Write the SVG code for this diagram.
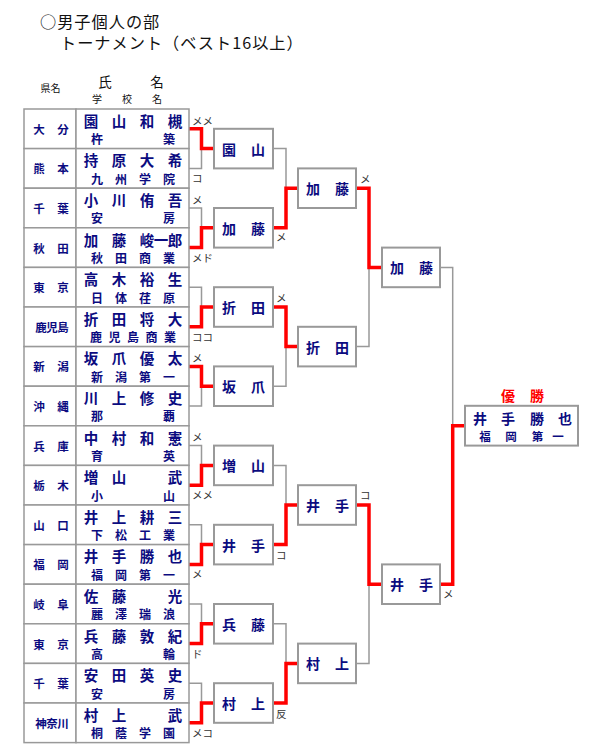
<svg xmlns="http://www.w3.org/2000/svg" width="600" height="750" viewBox="0 0 600 750">
<style>
text{font-family:"Noto Sans CJK JP","Noto Sans",sans-serif;dominant-baseline:central}
.hd{font-size:16.2px;fill:#111;letter-spacing:1px}
.th{fill:#111;text-anchor:middle}
.pf{font-size:11.5px;fill:#0b0b80;font-weight:bold;text-anchor:middle}
.nm{font-size:14.5px;fill:#0b0b80;font-weight:bold;text-anchor:middle}
.sc{font-size:12px;fill:#0b0b80;font-weight:bold;text-anchor:middle}
.bx{font-size:14px;fill:#0b0b80;font-weight:bold;text-anchor:middle}
.lb{font-size:10.5px;fill:#333}
.cell{fill:#fff;stroke:#999;stroke-width:1.5}
.box{fill:#fff;stroke:#999;stroke-width:2}
.g{fill:none;stroke:#999;stroke-width:1.5}
.r{fill:none;stroke:#f00;stroke-width:3.5;stroke-linejoin:miter}
</style>
<rect width="600" height="750" fill="#fff"/>
<g id="title">
<text class="hd" x="40" y="21">○男子個人の部</text>
<text class="hd" x="60" y="42.2">トーナメント（ベスト16以上）</text>
</g>
<g id="header">
<text class="th" x="50.5" y="87" style="font-size:10px">県名</text>
<text class="th" x="105 157" y="80.5" style="font-size:13.5px">氏名</text>
<text class="th" x="97 127 157" y="98.5" style="font-size:10px">学校名</text>
</g>
<g id="connectors">
<path class="g" d="M189 128.8H201.5V168.4H189M189 208H201.5V247.6H189M189 287.2H201.5V326.8H189M189 366.4H201.5V406H189M189 445.6H201.5V485.2H189M189 524.8H201.5V564.4H189M189 604H201.5V643.6H189M189 683.2H201.5V722.8H189"/>
<path class="g" d="M273 148.6H286V227.8H273M273 307H286V386.2H273M273 465.4H286V544.6H273M273 623.8H286V703H273"/>
<path class="g" d="M356 188.2H369V346.6H356M356 505H369V663.4H356"/>
<path class="g" d="M440 267.4H452.7V584.2H440"/>
<path class="r" d="M189 128.8H201.5V148.6H214"/>
<path class="r" d="M189 247.6H201.5V227.8H214"/>
<path class="r" d="M189 326.8H201.5V307H214"/>
<path class="r" d="M189 366.4H201.5V386.2H214"/>
<path class="r" d="M189 485.2H201.5V465.4H214"/>
<path class="r" d="M189 564.4H201.5V544.6H214"/>
<path class="r" d="M189 643.6H201.5V623.8H214"/>
<path class="r" d="M189 722.8H201.5V703H214"/>
<path class="r" d="M273 227.8H286V188.2H298"/>
<path class="r" d="M273 307H286V346.6H298"/>
<path class="r" d="M273 544.6H286V505H298"/>
<path class="r" d="M273 703H286V663.4H298"/>
<path class="r" d="M356 188.2H369V267.4H382"/>
<path class="r" d="M356 505H369V584.2H382"/>
<path class="r" d="M440 584.2H452.7V425.8H465"/>
</g>
<g id="scores">
<text class="lb" x="192" y="120.3">メメ</text>
<text class="lb" x="192" y="177.9">コ</text>
<text class="lb" x="192" y="199.5">メ</text>
<text class="lb" x="192" y="257.1">メド</text>
<text class="lb" x="192" y="336.3">ココ</text>
<text class="lb" x="192" y="357.9">メ</text>
<text class="lb" x="192" y="436.5">メ</text>
<text class="lb" x="192" y="494.7">メメ</text>
<text class="lb" x="192" y="573.9">メ</text>
<text class="lb" x="192" y="653.1">ド</text>
<text class="lb" x="192" y="732.3">メコ</text>
<text class="lb" x="276" y="236.8">メ</text>
<text class="lb" x="276" y="297">メ</text>
<text class="lb" x="276" y="554">コ</text>
<text class="lb" x="276" y="713">反</text>
<text class="lb" x="360" y="178">メ</text>
<text class="lb" x="360" y="494">コ</text>
<text class="lb" x="443" y="593">メ</text>
</g>
<g id="p1"><rect class="cell" x="24" y="109" width="52" height="39.6"/><rect class="cell" x="76" y="109" width="113" height="39.6"/><text class="pf" x="39 63" y="128.8">大分</text><text class="nm" x="91 119 147 175" y="120.3">園山和槻</text><text class="sc" x="97 169" y="138.7">杵築</text></g>
<g id="p2"><rect class="cell" x="24" y="148.6" width="52" height="39.6"/><rect class="cell" x="76" y="148.6" width="113" height="39.6"/><text class="pf" x="39 63" y="168.4">熊本</text><text class="nm" x="91 119 147 175" y="159.9">持原大希</text><text class="sc" x="97 121 145 169" y="178.3">九州学院</text></g>
<g id="p3"><rect class="cell" x="24" y="188.2" width="52" height="39.6"/><rect class="cell" x="76" y="188.2" width="113" height="39.6"/><text class="pf" x="39 63" y="208">千葉</text><text class="nm" x="91 119 147 175" y="199.5">小川侑吾</text><text class="sc" x="97 169" y="217.9">安房</text></g>
<g id="p4"><rect class="cell" x="24" y="227.8" width="52" height="39.6"/><rect class="cell" x="76" y="227.8" width="113" height="39.6"/><text class="pf" x="39 63" y="247.6">秋田</text><text class="nm" x="91 119 147 161 175" y="239.1">加藤峻一郎</text><text class="sc" x="97 121 145 169" y="257.5">秋田商業</text></g>
<g id="p5"><rect class="cell" x="24" y="267.4" width="52" height="39.6"/><rect class="cell" x="76" y="267.4" width="113" height="39.6"/><text class="pf" x="39 63" y="287.2">東京</text><text class="nm" x="91 119 147 175" y="278.7">高木裕生</text><text class="sc" x="97 121 145 169" y="297.1">日体荏原</text></g>
<g id="p6"><rect class="cell" x="24" y="307" width="52" height="39.6"/><rect class="cell" x="76" y="307" width="113" height="39.6"/><text class="pf" x="41 52 63" y="326.8">鹿児島</text><text class="nm" x="91 119 147 175" y="318.3">折田将大</text><text class="sc" x="96 114.5 133 151.5 170" y="336.7">鹿児島商業</text></g>
<g id="p7"><rect class="cell" x="24" y="346.6" width="52" height="39.6"/><rect class="cell" x="76" y="346.6" width="113" height="39.6"/><text class="pf" x="39 63" y="366.4">新潟</text><text class="nm" x="91 119 147 175" y="357.9">坂爪優太</text><text class="sc" x="97 121 145 169" y="376.3">新潟第一</text></g>
<g id="p8"><rect class="cell" x="24" y="386.2" width="52" height="39.6"/><rect class="cell" x="76" y="386.2" width="113" height="39.6"/><text class="pf" x="39 63" y="406">沖縄</text><text class="nm" x="91 119 147 175" y="397.5">川上修史</text><text class="sc" x="97 169" y="415.9">那覇</text></g>
<g id="p9"><rect class="cell" x="24" y="425.8" width="52" height="39.6"/><rect class="cell" x="76" y="425.8" width="113" height="39.6"/><text class="pf" x="39 63" y="445.6">兵庫</text><text class="nm" x="91 119 147 175" y="437.1">中村和憲</text><text class="sc" x="97 169" y="455.5">育英</text></g>
<g id="p10"><rect class="cell" x="24" y="465.4" width="52" height="39.6"/><rect class="cell" x="76" y="465.4" width="113" height="39.6"/><text class="pf" x="39 63" y="485.2">栃木</text><text class="nm" x="91 119 175" y="476.7">増山武</text><text class="sc" x="97 169" y="495.1">小山</text></g>
<g id="p11"><rect class="cell" x="24" y="505" width="52" height="39.6"/><rect class="cell" x="76" y="505" width="113" height="39.6"/><text class="pf" x="39 63" y="524.8">山口</text><text class="nm" x="91 119 147 175" y="516.3">井上耕三</text><text class="sc" x="97 121 145 169" y="534.7">下松工業</text></g>
<g id="p12"><rect class="cell" x="24" y="544.6" width="52" height="39.6"/><rect class="cell" x="76" y="544.6" width="113" height="39.6"/><text class="pf" x="39 63" y="564.4">福岡</text><text class="nm" x="91 119 147 175" y="555.9">井手勝也</text><text class="sc" x="97 121 145 169" y="574.3">福岡第一</text></g>
<g id="p13"><rect class="cell" x="24" y="584.2" width="52" height="39.6"/><rect class="cell" x="76" y="584.2" width="113" height="39.6"/><text class="pf" x="39 63" y="604">岐阜</text><text class="nm" x="91 119 175" y="595.5">佐藤光</text><text class="sc" x="97 121 145 169" y="613.9">麗澤瑞浪</text></g>
<g id="p14"><rect class="cell" x="24" y="623.8" width="52" height="39.6"/><rect class="cell" x="76" y="623.8" width="113" height="39.6"/><text class="pf" x="39 63" y="643.6">東京</text><text class="nm" x="91 119 147 175" y="635.1">兵藤敦紀</text><text class="sc" x="97 169" y="653.5">高輪</text></g>
<g id="p15"><rect class="cell" x="24" y="663.4" width="52" height="39.6"/><rect class="cell" x="76" y="663.4" width="113" height="39.6"/><text class="pf" x="39 63" y="683.2">千葉</text><text class="nm" x="91 119 147 175" y="674.7">安田英史</text><text class="sc" x="97 169" y="693.1">安房</text></g>
<g id="p16"><rect class="cell" x="24" y="703" width="52" height="39.6"/><rect class="cell" x="76" y="703" width="113" height="39.6"/><text class="pf" x="41 52 63" y="722.8">神奈川</text><text class="nm" x="91 119 175" y="714.3">村上武</text><text class="sc" x="97 121 145 169" y="732.7">桐蔭学園</text></g>
<g id="r2-1"><rect class="box" x="214" y="128.8" width="59" height="39.6"/><text class="bx" x="229 258" y="148.6">園山</text></g>
<g id="r2-2"><rect class="box" x="214" y="208" width="59" height="39.6"/><text class="bx" x="229 258" y="227.8">加藤</text></g>
<g id="r2-3"><rect class="box" x="214" y="287.2" width="59" height="39.6"/><text class="bx" x="229 258" y="307">折田</text></g>
<g id="r2-4"><rect class="box" x="214" y="366.4" width="59" height="39.6"/><text class="bx" x="229 258" y="386.2">坂爪</text></g>
<g id="r2-5"><rect class="box" x="214" y="445.6" width="59" height="39.6"/><text class="bx" x="229 258" y="465.4">増山</text></g>
<g id="r2-6"><rect class="box" x="214" y="524.8" width="59" height="39.6"/><text class="bx" x="229 258" y="544.6">井手</text></g>
<g id="r2-7"><rect class="box" x="214" y="604" width="59" height="39.6"/><text class="bx" x="229 258" y="623.8">兵藤</text></g>
<g id="r2-8"><rect class="box" x="214" y="683.2" width="59" height="39.6"/><text class="bx" x="229 258" y="703">村上</text></g>
<g id="r3-1"><rect class="box" x="298" y="168.4" width="58" height="39.6"/><text class="bx" x="313 342" y="188.2">加藤</text></g>
<g id="r3-2"><rect class="box" x="298" y="326.8" width="58" height="39.6"/><text class="bx" x="313 342" y="346.6">折田</text></g>
<g id="r3-3"><rect class="box" x="298" y="485.2" width="58" height="39.6"/><text class="bx" x="313 342" y="505">井手</text></g>
<g id="r3-4"><rect class="box" x="298" y="643.6" width="58" height="39.6"/><text class="bx" x="313 342" y="663.4">村上</text></g>
<g id="r4-1"><rect class="box" x="382" y="247.6" width="58" height="39.6"/><text class="bx" x="397 426" y="267.4">加藤</text></g>
<g id="r4-2"><rect class="box" x="382" y="564.4" width="58" height="39.6"/><text class="bx" x="397 426" y="584.2">井手</text></g>
<g id="champion">
<text x="508 537" y="395" style="font-size:14px;fill:#f00;font-weight:bold;text-anchor:middle">優勝</text>
<rect class="box" x="465" y="405.8" width="113" height="39.8"/>
<text class="bx" x="480 508 537 565" y="418">井手勝也</text>
<text class="sc" x="485 511 537.5 558" y="435.5" style="font-size:11.5px">福岡第一</text>
</g>
</svg>
